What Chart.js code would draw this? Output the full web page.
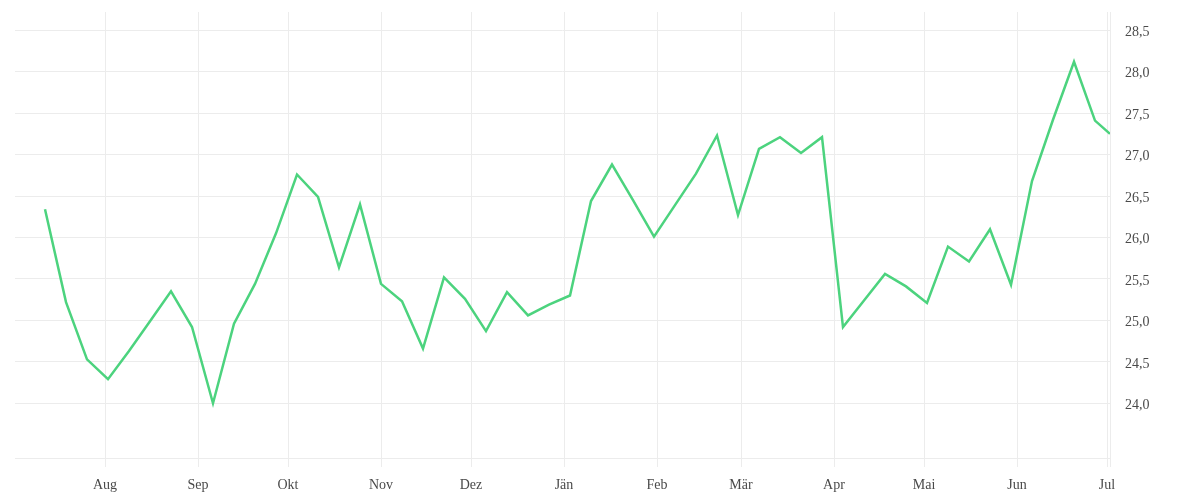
<!DOCTYPE html>
<html>
<head>
<meta charset="utf-8">
<script src="https://cdn.jsdelivr.net/npm/chart.js@4/dist/chart.umd.min.js"></script>
<style>
  html, body { margin: 0; padding: 0; background: #fff; }
  #wrap { width: 1200px; height: 500px; position: relative; }
</style>
</head>
<body>
<div id="wrap"><canvas id="c"></canvas></div>
<script>
const dates = [
  '2022-07-12','2022-07-19','2022-07-26','2022-08-02','2022-08-09','2022-08-16','2022-08-23','2022-08-30',
  '2022-09-06','2022-09-13','2022-09-20','2022-09-27','2022-10-04','2022-10-11','2022-10-18','2022-10-25',
  '2022-11-01','2022-11-08','2022-11-15','2022-11-22','2022-11-29','2022-12-06','2022-12-13','2022-12-20',
  '2022-12-27','2023-01-03','2023-01-10','2023-01-17','2023-01-24','2023-01-31','2023-02-07','2023-02-14',
  '2023-02-21','2023-02-28','2023-03-07','2023-03-14','2023-03-21','2023-03-28','2023-04-04','2023-04-11',
  '2023-04-18','2023-04-25','2023-05-02','2023-05-09','2023-05-16','2023-05-23','2023-05-30','2023-06-06',
  '2023-06-13','2023-06-20','2023-06-27','2023-07-02'
];
const values = [
  26.34, 25.22, 24.53, 24.29, 24.63, 24.99, 25.35, 24.92,
  24.00, 24.96, 25.44, 26.05, 26.76, 26.49, 25.64, 26.40,
  25.44, 25.23, 24.66, 25.52, 25.26, 24.87, 25.34, 25.06,
  25.19, 25.30, 26.44, 26.88, 26.45, 26.01, 26.39, 26.77,
  27.23, 26.27, 27.07, 27.21, 27.02, 27.21, 24.92, 25.24,
  25.56, 25.41, 25.21, 25.89, 25.71, 26.10, 25.43, 26.68,
  27.42, 28.12, 27.41, 27.25
];
const monthTickDates = ['2022-08-01','2022-09-01','2022-10-01','2022-11-01','2022-12-01','2023-01-01',
  '2023-02-01','2023-03-01','2023-04-01','2023-05-01','2023-06-01','2023-07-01'];
const monthLabels = ['Aug','Sep','Okt','Nov','Dez','Jän','Feb','Mär','Apr','Mai','Jun','Jul'];
const yTicks = [24.0, 24.5, 25.0, 25.5, 26.0, 26.5, 27.0, 27.5, 28.0, 28.5];
const xStart = '2022-07-02';
const yMin = 23.34;
const yMax = 28.72;

function ts(s) { const p = s.split('-').map(Number); return Date.UTC(p[0], p[1] - 1, p[2]); }
const points = dates.map((d, i) => ({ x: ts(d), y: values[i] }));
const monthTs = monthTickDates.map(ts);
const xMin = ts(xStart);
const xMax = ts(dates[dates.length - 1]);

const gridColor = '#ececec';
const font = { family: "'Liberation Serif', serif", size: 14 };

new Chart(document.getElementById('c'), {
  type: 'line',
  data: {
    datasets: [{
      data: points,
      borderColor: '#4cd37e',
      borderWidth: 2.5,
      pointRadius: 0,
      tension: 0,
      fill: false
    }]
  },
  options: {
    responsive: true,
    maintainAspectRatio: false,
    animation: false,
    layout: { padding: { left: 15, top: 12, right: 0, bottom: 0 } },
    plugins: { legend: { display: false }, tooltip: { enabled: false } },
    scales: {
      x: {
        type: 'linear',
        min: xMin,
        max: xMax,
        afterBuildTicks: (axis) => {
          axis.ticks = monthTs.map(v => ({ value: v })).concat([{ value: xMax }]);
        },
        afterFit: (axis) => { axis.height = 42; axis.paddingLeft = 0; axis.paddingRight = 0; },
        grid: { color: gridColor, tickLength: 9, drawTicks: true },
        border: { display: true, color: gridColor },
        ticks: {
          autoSkip: false,
          maxRotation: 0,
          padding: 10,
          color: '#4a4a4a',
          font: font,
          callback: (v) => {
            const i = monthTs.indexOf(v);
            return i >= 0 ? monthLabels[i] : '';
          }
        }
      },
      y: {
        position: 'right',
        min: yMin,
        max: yMax,
        afterBuildTicks: (axis) => {
          axis.ticks = yTicks.map(v => ({ value: v }));
        },
        afterFit: (axis) => { axis.width = 90; axis.paddingTop = 0; axis.paddingBottom = 0; },
        grid: { color: gridColor, drawTicks: false },
        border: { display: false },
        ticks: {
          padding: 15,
          labelOffset: 2,
          color: '#4a4a4a',
          font: font,
          callback: (v) => Number(v).toFixed(1).replace('.', ',')
        }
      }
    }
  }
});
</script>
</body>
</html>
